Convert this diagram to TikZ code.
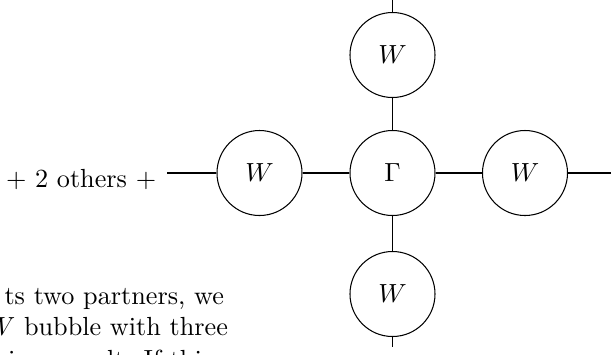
\documentclass[tikz,border=0pt]{standalone}
\begin{document}
\begin{tikzpicture}[x=0.3817pt,y=-0.3817pt,
  bub/.style={circle,draw,minimum size=32.45pt,inner sep=0pt},
  lab/.style={inner sep=0pt,anchor=base west}]
\clip (0,0) rectangle (611,354);
\node[bub] (G) at (392.5,173) {$\Gamma$};
\node[bub] (T) at (392.5,55) {$W$};
\node[bub] (B) at (392.5,294) {$W$};
\node[bub] (L) at (259.5,173) {$W$};
\node[bub] (R) at (525,173) {$W$};
\coordinate (te) at (392.5,-5);
\coordinate (be) at (392.5,347);
\coordinate (le) at (167,173);
\coordinate (re) at (620,173);
\draw (T) -- (te);
\draw (T) -- (G);
\draw (G) -- (B);
\draw (B) -- (be);
\draw (L) -- (le);
\draw (L) -- (G);
\draw (G) -- (R);
\draw (R) -- (re);
\node[lab] (others) at (5.5,187) {+ 2 others +};
\node[lab] (p1) at (4,304) {ts two partners, we};
\node[lab,anchor=base east] (p2) at (228.5,335.5) {$W$ bubble with three};
\node[lab] (p3) at (7.5,368.5) {in a result. If thi};
\end{tikzpicture}
\end{document}
